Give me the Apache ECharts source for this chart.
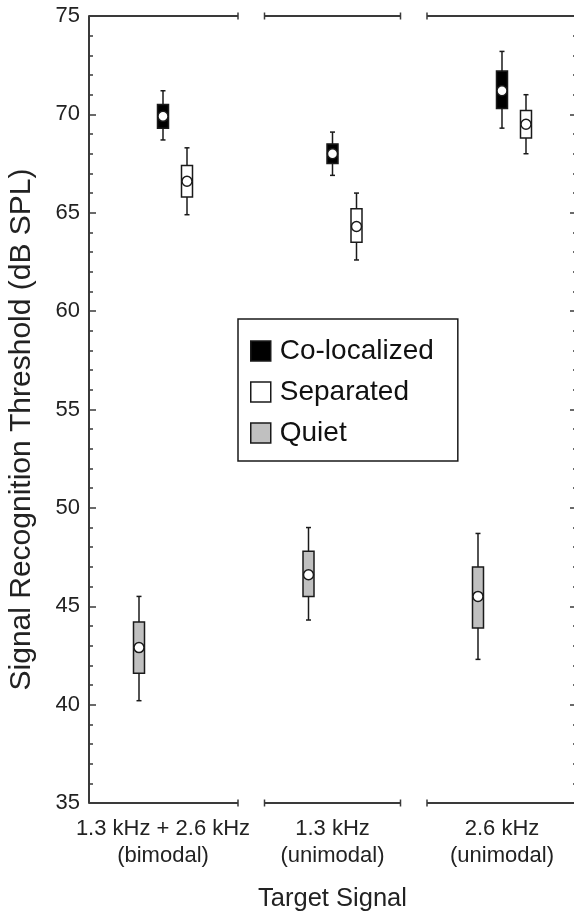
<!DOCTYPE html>
<html><head><meta charset="utf-8">
<script src="https://cdn.jsdelivr.net/npm/echarts@6/dist/echarts.min.js"></script>
<style>html,body{margin:0;padding:0;background:#fff}#c{width:574px;height:911px}</style>
</head><body><div id="c"></div>
<script>
// ---------- data ----------
const categories = ['1.3 kHz + 2.6 kHz', '1.3 kHz', '2.6 kHz'];
const categoryNotes = ['(bimodal)', '(unimodal)', '(unimodal)'];
const categoryPositions = [1, 2, 3];
const seriesNames = ['Co-localized', 'Separated', 'Quiet'];
// each entry: [lower whisker, box bottom, median, box top, upper whisker]
const coLocalized = [[68.7, 69.3, 69.9, 70.5, 71.2], [66.9, 67.5, 68.0, 68.5, 69.1], [69.3, 70.3, 71.2, 72.2, 73.2]];
const separated   = [[64.9, 65.8, 66.6, 67.4, 68.3], [62.6, 63.5, 64.3, 65.2, 66.0], [68.0, 68.8, 69.5, 70.2, 71.0]];
const quiet       = [[40.2, 41.6, 42.9, 44.2, 45.5], [44.3, 45.5, 46.6, 47.8, 49.0], [42.3, 43.9, 45.5, 47.0, 48.7]];
const yMin = 35, yMax = 75, yStep = 5;
const xTitle = 'Target Signal';
const yTitle = 'Signal Recognition Threshold (dB SPL)';

// ---------- styles ----------
const FONT = '"Liberation Sans", Arial, Helvetica, sans-serif';
const INK = '#1a1a1a';
const AXIS = '#3a3a3a';
const seriesStyle = {
  'Co-localized': { fill: '#000000', offset: 0 },
  'Separated':    { fill: '#ffffff', offset: 24 },
  'Quiet':        { fill: '#c0c0c0', offset: -24 }
};
const segHalf = [75, 68, 75]; // half length (px) of each broken frame segment

function boxRender(fill, offset) {
  return function (params, api) {
    const x = api.value(0);
    const v = [1, 2, 3, 4, 5].map(i => api.value(i));
    const px = api.coord([x, v[0]])[0] + offset;
    const y = v.map(val => api.coord([x, val])[1]);
    const hw = 5.5, cap = 2.5;
    const ls = { stroke: INK, lineWidth: 1.5 };
    return {
      type: 'group',
      children: [
        { type: 'line', shape: { x1: px, y1: y[0], x2: px, y2: y[4] }, style: ls },
        { type: 'line', shape: { x1: px - cap, y1: y[0], x2: px + cap, y2: y[0] }, style: ls },
        { type: 'line', shape: { x1: px - cap, y1: y[4], x2: px + cap, y2: y[4] }, style: ls },
        { type: 'rect', shape: { x: px - hw, y: y[3], width: 2 * hw, height: y[1] - y[3] },
          style: { fill: fill, stroke: INK, lineWidth: 1.5 } },
        { type: 'circle', shape: { cx: px, cy: y[2], r: 5 },
          style: { fill: '#ffffff', stroke: INK, lineWidth: 1.5 } }
      ]
    };
  };
}

function frameRender(params, api) {
  const x = api.value(0);
  const cs = params.coordSys;
  const c = api.coord([x, yMin]);
  const yb = c[1];
  const yt = api.coord([x, yMax])[1];
  const half = segHalf[params.dataIndex];
  const left = cs.x, right = cs.x + cs.width;
  const x1 = Math.max(left, c[0] - half);
  const x2 = Math.min(right, c[0] + half);
  const ls = { stroke: AXIS, lineWidth: 2 };
  const ch = [];
  [yb, yt].forEach(yy => {
    ch.push({ type: 'line', shape: { x1: x1, y1: yy, x2: x2, y2: yy }, style: ls });
    if (x1 > left) ch.push({ type: 'line', shape: { x1: x1, y1: yy - 3.5, x2: x1, y2: yy + 3.5 }, style: { stroke: AXIS, lineWidth: 1.5 } });
    if (x2 < right) ch.push({ type: 'line', shape: { x1: x2, y1: yy - 3.5, x2: x2, y2: yy + 3.5 }, style: { stroke: AXIS, lineWidth: 1.5 } });
  });
  return { type: 'group', children: ch };
}

const seriesData = { 'Co-localized': coLocalized, 'Separated': separated, 'Quiet': quiet };

const chart = echarts.init(document.getElementById('c'), null, { renderer: 'canvas' });
const option = {
  animation: false,
  backgroundColor: '#ffffff',
  textStyle: { fontFamily: FONT },
  grid: { left: 89, top: 16, width: 487, height: 787, containLabel: false, outerBoundsMode: 'none' },
  legend: {
    orient: 'vertical',
    left: 238, top: 319,
    padding: [18, 24, 14, 12],
    itemWidth: 20, itemHeight: 20, itemGap: 13,
    borderColor: INK, borderWidth: 1.5, backgroundColor: '#ffffff',
    selectedMode: false,
    textStyle: { fontSize: 28, color: '#111', fontFamily: FONT, padding: [0, 0, 0, 4] },
    data: seriesNames.map(n => ({
      name: n, icon: 'rect',
      itemStyle: { color: seriesStyle[n].fill, borderColor: INK, borderWidth: 1.5 }
    }))
  },
  xAxis: {
    type: 'value', min: 0.5634, max: 3.4366,
    axisLine: { show: false }, axisTick: { show: false }, splitLine: { show: false },
    axisLabel: {
      customValues: categoryPositions,
      formatter: v => { const i = categoryPositions.indexOf(v); return i < 0 ? '' : categories[i] + '\n' + categoryNotes[i]; },
      margin: 12, fontSize: 22, lineHeight: 27, color: '#222', fontFamily: FONT
    },
    name: xTitle, nameLocation: 'middle', nameGap: 83,
    nameTextStyle: { fontSize: 25.5, color: '#222', fontFamily: FONT }
  },
  yAxis: [
    {
      type: 'value', min: yMin, max: yMax, interval: yStep,
      axisLine: { show: true, lineStyle: { color: AXIS, width: 2 } },
      axisTick: { show: true, inside: true, length: 7, lineStyle: { color: AXIS, width: 1.5 } },
      minorTick: { show: true, splitNumber: 5, length: 4, lineStyle: { color: AXIS, width: 1.5 } },
      splitLine: { show: false },
      axisLabel: { fontSize: 22, color: '#222', margin: 9, fontFamily: FONT },
      name: yTitle, nameLocation: 'middle', nameGap: 52, nameRotate: 90,
      nameTextStyle: { fontSize: 30, color: '#222', fontFamily: FONT, padding: [0, 40, 0, 0] }
    },
    {
      type: 'value', position: 'right', min: yMin, max: yMax, interval: yStep,
      axisLine: { show: false },
      axisTick: { show: true, inside: true, length: 6, lineStyle: { color: AXIS, width: 1.5 } },
      minorTick: { show: true, splitNumber: 5, length: 3, lineStyle: { color: AXIS, width: 1.5 } },
      splitLine: { show: false },
      axisLabel: { show: false }
    }
  ],
  series: [
    {
      type: 'custom', name: '_frame', renderItem: frameRender, silent: true, z: 1,
      encode: { x: 0, y: 1 },
      data: categoryPositions.map(p => [p, yMin])
    }
  ].concat(seriesNames.map(n => ({
    type: 'custom', name: n, z: 3,
    renderItem: boxRender(seriesStyle[n].fill, seriesStyle[n].offset),
    itemStyle: { color: seriesStyle[n].fill, borderColor: INK },
    encode: { x: 0, y: [1, 2, 3, 4, 5] },
    data: categoryPositions.map((p, i) => [p].concat(seriesData[n][i]))
  })))
};
chart.setOption(option);
</script></body></html>
